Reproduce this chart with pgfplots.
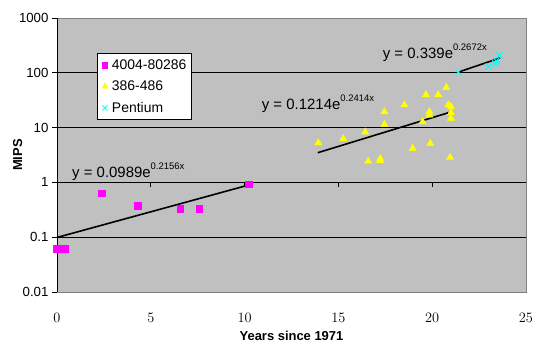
\documentclass[border=0pt]{standalone}
\usepackage{fontspec}
\setmainfont{Liberation Sans}
\usepackage{pgfplots}
\pgfplotsset{compat=1.18}
\definecolor{plotgray}{RGB}{192,192,192}
\definecolor{bordergray}{RGB}{128,128,128}
\definecolor{mag}{RGB}{255,0,255}
\definecolor{yel}{RGB}{255,255,0}
\definecolor{cya}{RGB}{0,255,255}
\begin{document}
\begin{tikzpicture}[x=1bp,y=1bp]
\begin{axis}[
  at={(0,0)}, anchor=south west,
  scale only axis, width=469bp, height=274bp,
  xmin=0, xmax=25, ymode=log, ymin=0.01, ymax=1000,
  clip=false,
  axis background/.style={fill=plotgray},
  axis line style={bordergray, line width=0.8bp},
  xtick={0,5,10,15,20,25}, xtick style={draw=none},
  xticklabel style={yshift=-13bp},
  ytick={0.01,0.1,1,10,100,1000}, yticklabels={0.01,0.1,1,10,100,1000},
  yminorticks=false,
  ytick pos=left, tick align=outside, ytick style={black, line width=0.8bp},
  major tick length=5bp,
  ymajorgrids, grid style={black, line width=0.8bp},
  tick label style={font=\fontsize{13.3}{15}\selectfont},
  xlabel={Years since 1971}, ylabel={MIPS},
  label style={font=\fontsize{13}{15}\selectfont\bfseries},
  xlabel style={yshift=-2bp},
  ylabel style={yshift=-10bp},
  legend style={at={(0.0846,0.871)}, anchor=north west, draw=black, fill=white,
    line width=0.6bp, font=\fontsize{14}{16}\selectfont,
    inner xsep=3bp, inner ysep=4bp, row sep=6bp,
    /tikz/every even column/.append style={column sep=0bp}},
  legend cell align=left,
  legend image code/.code={\path[draw=none, fill=none] (0bp,-3bp) rectangle (10bp,3bp); \draw[#1] plot coordinates {(5bp,0bp)};},
]
\addplot[only marks, mark=square*, mark size=3.3bp, draw=mag, fill=mag,
  legend image post style={mark size=2.6bp}] coordinates {
  (0,0.062) (0.42,0.062) (2.38,0.64) (4.3,0.38) (6.56,0.33) (7.57,0.33) (10.22,0.92)};
\addlegendentry{4004-80286}
\addplot[only marks, mark=triangle*, mark size=4.2bp, draw=yel, fill=yel,
  legend image post style={mark size=3.4bp}] coordinates {
  (13.93,5.28) (15.26,6.25) (16.43,8.28) (16.59,2.42) (17.23,2.48) (17.23,2.7)
  (17.45,19.4) (17.45,11.4) (18.52,26) (18.96,4.17) (19.49,12.8) (19.67,39.7)
  (19.85,19.4) (19.85,16.9) (19.9,5.1) (20.32,39.7) (20.75,54) (20.86,26)
  (21.0,24) (21.0,18.6) (21.0,14.7) (20.95,2.86)};
\addlegendentry{386-486}
\addplot[only marks, mark=x, mark size=4.5bp, draw=cya, line width=0.9bp,
  legend image post style={mark size=3.5bp}] coordinates {
  (21.39,104) (23.0,129) (23.36,150) (23.42,165) (23.58,210)};
\addlegendentry{Pentium}
% trend lines
\addplot[forget plot, black, line width=1.6bp] coordinates {(0,0.0989) (10.22,0.896)};
\addplot[forget plot, black, line width=1.6bp] coordinates {(13.9,3.48) (21.04,19.5)};
\addplot[forget plot, black, line width=1.6bp] coordinates {(21.39,102.9) (23.62,186.7)};
% axis line at y = 1 with ticks, and the left axis line
\draw[black, line width=0.8bp] (rel axis cs:0,0) -- (rel axis cs:0,1);
\pgfplotsinvokeforeach{5,10,15,20}{\draw[black, line width=0.8bp] (axis cs:#1,1) -- ([yshift=-5bp]axis cs:#1,1);}
% equations
\node[anchor=base west, font=\fontsize{15}{17}\selectfont, inner sep=0pt] at (axis cs:0.8,1.25)
  {y = 0.0989e\raisebox{0.5em}{\fontsize{9.5}{10}\selectfont 0.2156x}};
\node[anchor=base west, font=\fontsize{15}{17}\selectfont, inner sep=0pt] at (axis cs:10.91,21.5)
  {y = 0.1214e\raisebox{0.5em}{\fontsize{9.5}{10}\selectfont 0.2414x}};
\node[anchor=base west, font=\fontsize{15}{17}\selectfont, inner sep=0pt] at (axis cs:17.36,183)
  {y = 0.339e\raisebox{0.5em}{\fontsize{9.5}{10}\selectfont 0.2672x}};
\end{axis}
\pgfresetboundingbox
\path[use as bounding box] (-57bp,-61bp) rectangle (487bp,292bp);
\end{tikzpicture}
\end{document}
